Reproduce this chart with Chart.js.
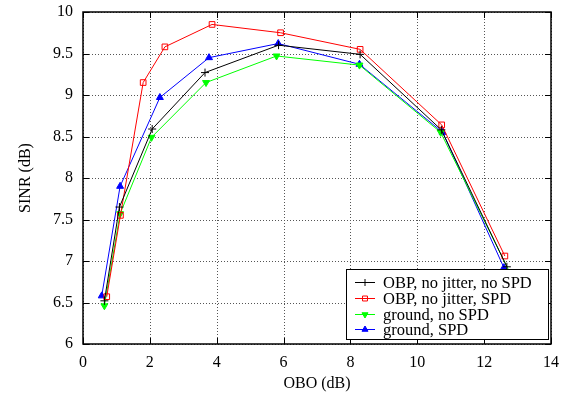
<!DOCTYPE html>
<html><head><meta charset="utf-8">
<script src="https://cdn.jsdelivr.net/npm/chart.js@4/dist/chart.umd.min.js"></script>
<style>html,body{margin:0;padding:0;background:#fff}#wrap{width:561px;height:397px}</style>
</head><body><div id="wrap"><canvas id="c" width="561" height="397"></canvas></div>
<script>
const seriesNames = ["OBP, no jitter, no SPD", "OBP, no jitter, SPD", "ground, no SPD", "ground, SPD"];
const obpNoSpdX = [0.64, 1.09, 2.07, 3.65, 5.85, 8.29, 10.72, 12.68];
const obpNoSpdY = [6.52, 7.65, 8.59, 9.27, 9.60, 9.49, 8.58, 6.93];
const obpSpdX = [0.71, 1.12, 1.80, 2.45, 3.86, 5.91, 8.29, 10.73, 12.62];
const obpSpdY = [6.57, 7.55, 9.15, 9.58, 9.85, 9.75, 9.55, 8.64, 7.06];
const groundNoSpdX = [0.64, 1.11, 2.05, 3.68, 5.79, 8.27, 10.70, 12.77];
const groundNoSpdY = [6.46, 7.57, 8.49, 9.15, 9.47, 9.36, 8.55, 6.86];
const groundSpdX = [0.56, 1.11, 2.30, 3.77, 5.84, 8.27, 10.76, 12.59];
const groundSpdY = [6.58, 7.90, 8.97, 9.45, 9.62, 9.37, 8.55, 6.92];
const xTicks = [0, 2, 4, 6, 8, 10, 12, 14];
const yTicks = [6, 6.5, 7, 7.5, 8, 8.5, 9, 9.5, 10];

const FONT = "'Liberation Serif','Times New Roman',serif";
function pts(xs, ys){ return xs.map((x,i)=>({x:x,y:ys[i]})); }
const styles = [
  {color:'#000000', pointStyle:'cross', rot:0, bg:'#000000', r:4},
  {color:'#ff0000', pointStyle:'rect', rot:0, bg:'rgba(255,255,255,0)', r:4},
  {color:'#00ff00', pointStyle:'triangle', rot:180, bg:'#00ff00', r:4},
  {color:'#0000ff', pointStyle:'triangle', rot:0, bg:'#0000ff', r:4}
];
const dataSets = [pts(obpNoSpdX,obpNoSpdY), pts(obpSpdX,obpSpdY), pts(groundNoSpdX,groundNoSpdY), pts(groundSpdX,groundSpdY)];

const datasets = dataSets.map((d,i)=>({
  label: seriesNames[i], data: d, showLine: true,
  borderColor: styles[i].color, backgroundColor: styles[i].bg,
  pointBorderColor: styles[i].color, pointBackgroundColor: styles[i].bg,
  pointStyle: styles[i].pointStyle, pointRotation: styles[i].rot,
  pointRadius: styles[i].r, pointBorderWidth: 1, borderWidth: 1, tension: 0
}));

const framePlugin = {
  id:'frame',
  beforeDatasetsDraw(chart){
    const {ctx, chartArea:a, scales} = chart;
    ctx.save();
    ctx.strokeStyle = '#555'; ctx.lineWidth = 1; ctx.setLineDash([1,2]);
    xTicks.forEach(t=>{ const x = Math.round(scales.x.getPixelForValue(t))+0.5;
      ctx.beginPath(); ctx.moveTo(x,a.bottom); ctx.lineTo(x,a.top); ctx.stroke(); });
    yTicks.forEach(t=>{ const y = Math.round(scales.y.getPixelForValue(t))+0.5;
      ctx.beginPath(); ctx.moveTo(a.left,y); ctx.lineTo(a.right,y); ctx.stroke(); });
    ctx.setLineDash([]);
    ctx.strokeStyle = '#000';
    xTicks.forEach(t=>{ const x = Math.round(scales.x.getPixelForValue(t))+0.5;
      ctx.beginPath(); ctx.moveTo(x,a.bottom); ctx.lineTo(x,a.bottom-6); ctx.moveTo(x,a.top); ctx.lineTo(x,a.top+6); ctx.stroke(); });
    yTicks.forEach(t=>{ const y = Math.round(scales.y.getPixelForValue(t))+0.5;
      ctx.beginPath(); ctx.moveTo(a.left,y); ctx.lineTo(a.left+6,y); ctx.moveTo(a.right,y); ctx.lineTo(a.right-6,y); ctx.stroke(); });
    ctx.lineWidth = 1.5;
    ctx.strokeRect(a.left, a.top, a.right-a.left, a.bottom-a.top);
    ctx.restore();
  },
  afterDraw(chart){
    const ctx = chart.ctx;
    const bx = 346, by = 269, bw = 202, bh = 70;
    ctx.save();
    ctx.fillStyle = '#fff'; ctx.fillRect(bx,by,bw,bh);
    ctx.strokeStyle = '#000'; ctx.lineWidth = 1;
    ctx.strokeRect(bx+0.5,by+0.5,bw,bh);
    ctx.font = '16.5px ' + FONT; ctx.textBaseline = 'middle';
    seriesNames.forEach((n,i)=>{
      const y = Math.round(by + 13 + i*15.8) + 0.5;
      ctx.strokeStyle = styles[i].color; ctx.lineWidth = 1;
      ctx.beginPath(); ctx.moveTo(bx+9, y); ctx.lineTo(bx+29, y); ctx.stroke();
      ctx.fillStyle = styles[i].bg;
      Chart.helpers.drawPoint(ctx, {pointStyle: styles[i].pointStyle, rotation: styles[i].rot, radius: 3.5, borderWidth:1}, bx+19, y);
      ctx.fillStyle = '#000';
      ctx.fillText(n, bx+37, y+1);
    });
    ctx.restore();
  }
};

new Chart(document.getElementById('c'), {
  type: 'scatter',
  data: { datasets },
  plugins: [framePlugin],
  options: {
    responsive: false, animation: false, devicePixelRatio: 1,
    layout: { padding: { top: 12, right: 10, left: 0, bottom: 0 } },
    plugins: { legend: { display: false }, tooltip: { enabled: false } },
    scales: {
      x: {
        type: 'linear', min: 0, max: 14,
        afterBuildTicks: s => { s.ticks = xTicks.map(v=>({value:v})); },
        afterFit: s => { s.height = 53; s.paddingLeft = 0; s.paddingRight = 0; },
        ticks: { color:'#000', font:{family:FONT, size:16}, padding: 9, maxRotation:0 },
        grid: { display:false, drawTicks:false },
        border: { display: false },
        title: { display:true, text:'OBO (dB)', color:'#000', font:{family:FONT, size:16}, padding:{top:2} }
      },
      y: {
        type: 'linear', min: 6, max: 10,
        afterBuildTicks: s => { s.ticks = yTicks.map(v=>({value:v})); },
        afterFit: s => { s.width = 83; s.paddingTop = 0; s.paddingBottom = 0; },
        ticks: { color:'#000', font:{family:FONT, size:16}, padding: 10, callback: v => String(v) },
        grid: { display:false, drawTicks:false },
        border: { display: false },
        title: { display:true, text:'SINR (dB)', color:'#000', font:{family:FONT, size:16}, padding:{top:16, bottom:0} }
      }
    }
  }
});
</script></body></html>
